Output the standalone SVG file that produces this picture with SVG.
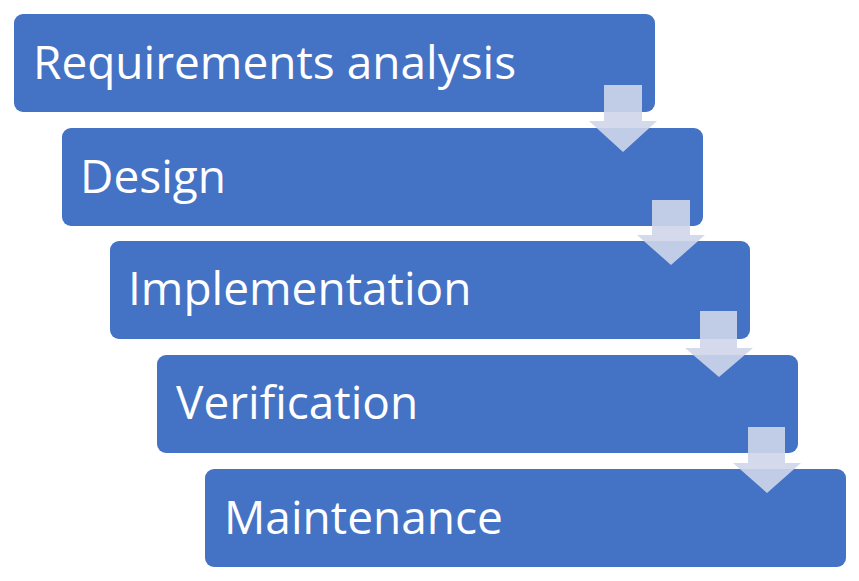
<svg xmlns="http://www.w3.org/2000/svg" width="859" height="581" viewBox="0 0 859 581">
<style>
.box{fill:#4472C4}
.lbl{fill:#FFFFFF;font-family:"Open Sans","Noto Sans","Liberation Sans",sans-serif;font-size:46px}
.arr{fill:#CFD6EA;fill-opacity:0.9}
</style>
<rect width="859" height="581" fill="#FFFFFF"/>
<g id="node-requirements">
<rect class="box" x="14" y="14" width="641" height="98" rx="9"/>
<text class="lbl" x="33" y="79">Requirements analysis</text>
</g>
<g id="node-design">
<rect class="box" x="62" y="128" width="641" height="98" rx="9"/>
<text class="lbl" x="80" y="193">Design</text>
</g>
<g id="node-implementation">
<rect class="box" x="110" y="241" width="640" height="98" rx="9"/>
<text class="lbl" x="128" y="305">Implementation</text>
</g>
<g id="node-verification">
<rect class="box" x="157" y="355" width="641" height="98" rx="9"/>
<text class="lbl" x="176" y="419">Verification</text>
</g>
<g id="node-maintenance">
<rect class="box" x="205" y="469" width="641" height="98" rx="9"/>
<text class="lbl" x="224" y="534">Maintenance</text>
</g>
<g id="connectors">
<path class="arr" d="M604,85 H642 V121 H657 L623,152 L589,121 H604 Z"/>
<path class="arr" d="M652,200 H690 V235 H705 L671,265 L637,235 H652 Z"/>
<path class="arr" d="M700,311 H737 V348 H753 L719,377 L685,348 H700 Z"/>
<path class="arr" d="M748,427 H785 V463 H801 L767,493 L733,463 H748 Z"/>
</g>
</svg>
